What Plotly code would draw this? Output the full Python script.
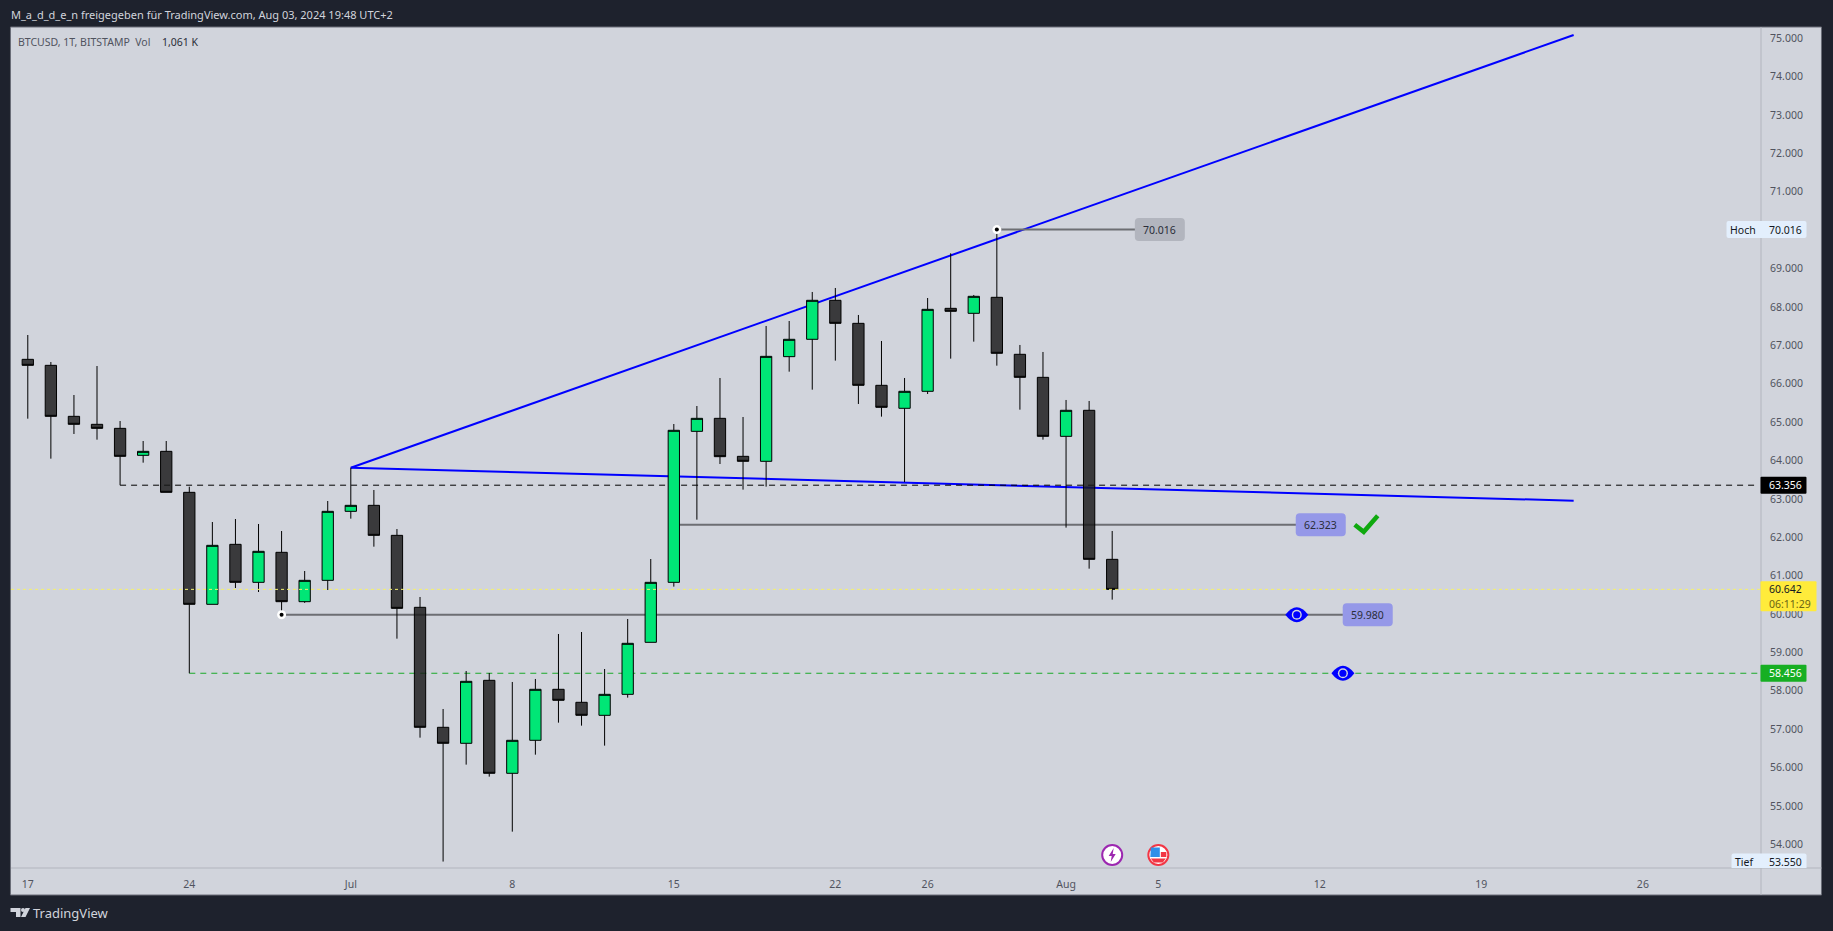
import plotly.graph_objects as go

FONT = "Noto Sans"
W, H = 1833, 931
PX_L, PX_R, PX_T, PX_B = 10.5, 1761.5, 27, 868
PANEL_R, PANEL_B = 1822, 895

dates = ["2024-06-16","2024-06-17","2024-06-18","2024-06-19","2024-06-20","2024-06-21","2024-06-22","2024-06-23",
 "2024-06-24","2024-06-25","2024-06-26","2024-06-27","2024-06-28","2024-06-29","2024-06-30",
 "2024-07-01","2024-07-02","2024-07-03","2024-07-04","2024-07-05","2024-07-06","2024-07-07",
 "2024-07-08","2024-07-09","2024-07-10","2024-07-11","2024-07-12","2024-07-13","2024-07-14",
 "2024-07-15","2024-07-16","2024-07-17","2024-07-18","2024-07-19","2024-07-20","2024-07-21",
 "2024-07-22","2024-07-23","2024-07-24","2024-07-25","2024-07-26","2024-07-27","2024-07-28",
 "2024-07-29","2024-07-30","2024-07-31","2024-08-01","2024-08-02","2024-08-03"]
opens = [66192,66635,66479,65150,64942,64837,64134,64238,
 63170,60252,61815,60825,61607,60321,60877,
 62675,62831,62049,60174,57048,56631,58272,
 55849,56709,58038,57699,57360,57907,59262,
 60825,64759,65098,64108,63978,66705,67157,
 68173,67573,65958,65359,65802,67964,67834,
 68251,66766,66166,64629,65307,61424]
highs = [66800,67269,66566,65706,66461,65028,64507,64507,
 63317,62397,62475,62345,62162,61120,62944,
 63812,63231,62214,60443,57525,58515,58463,
 58229,58307,59479,59531,58567,59870,61433,
 64950,65419,66149,65133,67504,67634,68390,
 68494,67791,67113,66149,68233,69398,68312,
 70016,67009,66827,65576,65550,62163]
lows = [66000,65089,64047,64690,64542,63356,63943,63170,
 58456,60252,60677,60573,59980,60290,60625,
 62484,61754,59357,56778,53550,56075,55762,
 54329,56335,57169,57091,56570,57821,59262,
 60713,62458,63908,63240,63318,66314,65845,
 66601,65472,65142,63439,65732,66653,67096,
 66470,65324,64542,62250,61181,60374]
closes = [66635,66479,65150,64942,64837,64108,64238,63170,
 60252,61789,60825,61633,60321,60877,62675,
 62831,62049,60147,57048,56631,58246,55849,
 56709,58038,57751,57360,57907,59236,60825,
 64786,65098,64099,63978,66713,67157,68173,
 67573,65958,65385,65802,67938,67886,68277,
 66792,66166,64629,65307,61424,60642]

tick_dates = ["2024-06-17","2024-06-24","2024-07-01","2024-07-08","2024-07-15","2024-07-22","2024-07-26",
              "2024-08-01","2024-08-05","2024-08-12","2024-08-19","2024-08-26"]
tick_labels = ["17","24","Jul","8","15","22","26","Aug","5","12","19","26"]
price_ticks = [54000,55000,56000,57000,58000,59000,60000,61000,62000,63000,64000,65000,66000,67000,
               68000,69000,70000,71000,72000,73000,74000,75000]
price_tick_labels = ["54.000","55.000","56.000","57.000","58.000","59.000","60.000","61.000","62.000","63.000","64.000",
                     "65.000","66.000","67.000","68.000","69.000","70.000","71.000","72.000","73.000","74.000","75.000"]

wedge_start = ("2024-07-01", 63812)
wedge_upper_end = ("2024-08-23", 75086)
wedge_lower_end = ("2024-08-23", 62952)
LEVEL_BLACK, LEVEL_GREEN, LEVEL_LAST = 63356, 58456, 60642
LEVEL_A, LEVEL_B, LEVEL_C = 70016, 62323, 59980
HIGH_VAL, LOW_VAL = 70016, 53550

BG = "#1e222d"; PANEL = "#d1d4dc"; AXLINE = "#b2b5be"; TXT = "#50535e"; BLUE = "#0000ff"; GREY = "#6d6e73"

def px(x):
    return (x - PX_L) / (PX_R - PX_L)
def py(y):
    return (PX_B - y) / (PX_B - PX_T)

shapes, annos = [], []

def text(t, x, y, size=10.5, color=TXT, anchor="center", yref="paper", family=FONT):
    annos.append(dict(text=t, x=px(x), xref="paper", y=py(y) if yref == "paper" else y, yref=yref,
                      xanchor=anchor, yanchor="middle", showarrow=False,
                      font=dict(family=family, size=size, color=color),
                      borderpad=0, borderwidth=0))

def rrect(xa, ya, x0, x1, up, down, fill, r=0, yref="y", layer="above"):
    p = (f"M{x0+r},{up} L{x1-r},{up} Q{x1},{up} {x1},{up-r} L{x1},{down+r} Q{x1},{down} {x1-r},{down} "
         f"L{x0+r},{down} Q{x0},{down} {x0},{down+r} L{x0},{up-r} Q{x0},{up} {x0+r},{up} Z")
    shapes.append(dict(type="path", path=p, xref="paper", xsizemode="pixel", xanchor=px(xa),
                       yref=yref, ysizemode="pixel", yanchor=ya, fillcolor=fill, line=dict(width=0), layer=layer))

def dline(x0, y0, x1, y1, color, width=1, dash="solid", layer="below", xref="x"):
    shapes.append(dict(type="line", xref=xref, yref="y", x0=x0, y0=y0, x1=x1, y1=y1,
                       line=dict(color=color, width=width, dash=dash), layer=layer))

def circle(xa, ya, r, fill, line=None, lw=0, xref="x", yref="y", layer="above"):
    shapes.append(dict(type="circle", xref=xref, yref=yref, xsizemode="pixel", ysizemode="pixel",
                       xanchor=xa, yanchor=ya, x0=-r, x1=r, y0=-r, y1=r, fillcolor=fill,
                       line=dict(color=line or fill, width=lw), layer=layer))

def path(xa, ya, p, fill=None, line=None, lw=0, xref="x", yref="y", layer="above"):
    shapes.append(dict(type="path", path=p, xref=xref, yref=yref, xsizemode="pixel", ysizemode="pixel",
                       xanchor=xa, yanchor=ya, fillcolor=fill or "rgba(0,0,0,0)",
                       line=dict(color=line or "rgba(0,0,0,0)", width=lw), layer=layer))

# panel and axis frame
shapes.append(dict(type="rect", xref="paper", yref="paper", x0=-0.0003, x1=px(PANEL_R), y0=py(PANEL_B), y1=1,
                   fillcolor=PANEL, line=dict(color="#6a6d78", width=1), layer="below"))
shapes.append(dict(type="line", xref="paper", yref="paper", x0=1, x1=1, y0=py(PANEL_B), y1=1,
                   line=dict(color=AXLINE, width=1), layer="below"))
shapes.append(dict(type="line", xref="paper", yref="paper", x0=0, x1=px(PANEL_R), y0=0, y1=0,
                   line=dict(color=AXLINE, width=1), layer="below"))

# drawings under the candles
dline(wedge_start[0], wedge_start[1], wedge_upper_end[0], wedge_upper_end[1], BLUE, 2)
dline(wedge_start[0], wedge_start[1], wedge_lower_end[0], wedge_lower_end[1], BLUE, 2)
dline("2024-06-21", LEVEL_BLACK, "2024-08-31", LEVEL_BLACK, "#000000", 1, "6px,5px")
dline("2024-06-24", LEVEL_GREEN, "2024-08-31", LEVEL_GREEN, "#1aa928", 1, "6px,5px")
dline("2024-07-29", LEVEL_A, "2024-08-04", LEVEL_A, GREY, 2)
dline("2024-07-15", LEVEL_B, "2024-08-11", LEVEL_B, GREY, 2)
dline("2024-06-28", LEVEL_C, "2024-08-13", LEVEL_C, GREY, 2)
shapes.append(dict(type="line", xref="paper", yref="y", x0=0, x1=1, y0=LEVEL_LAST, y1=LEVEL_LAST,
                   line=dict(color="#f4f06e", width=1, dash="dot"), layer="above"))

# anchor dots
for d, v in (("2024-07-29", LEVEL_A), ("2024-06-28", LEVEL_C)):
    circle(d, v, 4.5, "#ffffff")
    circle(d, v, 2, "#000000")

# drawing labels
rrect(1160, LEVEL_A, -25, 25, 11.5, -11.5, "#b2b5be", 4)
text("70.016", 1160, LEVEL_A, 10.5, "#2a2e39", yref="y")
rrect(1321, LEVEL_B, -25, 25, 11.5, -11.5, "#9598e8", 4)
text("62.323", 1321, LEVEL_B, 10.5, "#2a2e39", yref="y")
rrect(1368, LEVEL_C, -25, 25, 11.5, -11.5, "#9598e8", 4)
text("59.980", 1368, LEVEL_C, 10.5, "#2a2e39", yref="y")

# check mark
path(px(1365), LEVEL_B, "M-10,0 L-1,-7 L13,9", None, "#0fa90f", 4.5, xref="paper")

# eyes
for d, v in (("2024-08-11", LEVEL_C), ("2024-08-13", LEVEL_GREEN)):
    path(d, v, "M-11.5,0 Q0,15 11.5,0 Q0,-15 -11.5,0 Z", BLUE)
    circle(d, v, 5, PANEL)
    circle(d, v, 3.6, BLUE)

# chart markers near the time axis
ym = py(855)
circle("2024-08-03", ym, 10, "#ffffff", "#9c27b0", 2, yref="paper")
path("2024-08-03", ym, "M1.5,7 L-3.5,-1 L-0.5,-1 L-1.5,-7 L3.5,1 L0.5,1 Z", "#9c27b0", yref="paper")
circle("2024-08-05", ym, 10, "#ffffff", "#f23645", 2, yref="paper")
path("2024-08-05", ym, "M-7.5,7.5 L1.5,7.5 L1.5,-2 L-8,-2 Z", "#2f8fe8", yref="paper")
path("2024-08-05", ym, "M2.5,3 L8,3 L8,-2 L2.5,-2 Z", "#f23645", yref="paper")
path("2024-08-05", ym, "M-7.5,-3.5 L7.5,-3.5 L4.5,-7.5 L-4.5,-7.5 Z", "#f23645", yref="paper")

# price-axis labels
rrect(1784, LEVEL_BLACK, -23, 23, 8.5, -8.5, "#000000", 1)
text("63.356", 1786, LEVEL_BLACK, 10.5, "#ffffff", yref="y")
rrect(1784, LEVEL_GREEN, -23, 23, 8.5, -8.5, "#17af23", 1)
text("58.456", 1786, LEVEL_GREEN, 10.5, "#ffffff", yref="y")
rrect(1761, LEVEL_LAST, 0, 56, 8, -22, "#ffeb3b", 1)
text("60.642", 1786, LEVEL_LAST, 10.5, "#131722", yref="y")
text("06:11:29", 1770, 603.5, 10.5, "#6b6414", anchor="left")
rrect(1727, HIGH_VAL, 0, 80, 8.5, -8.5, "#e3effd", 2)
text("Hoch", 1743, HIGH_VAL, 10.5, "#131722", yref="y")
text("70.016", 1786, HIGH_VAL, 10.5, "#131722", yref="y")
rrect(1732, LOW_VAL, 0, 75, 8, -8, "#e3effd", 2)
text("Tief", 1745, LOW_VAL, 10.5, "#131722", yref="y")
text("53.550", 1786, LOW_VAL, 10.5, "#131722", yref="y")

# header, legend, footer
text("M_a_d_d_e_n freigegeben für TradingView.com, Aug 03, 2024 19:48 UTC+2", 10, 15, 11, "#d1d4dc", "left")
text("BTCUSD, 1T, BITSTAMP  Vol", 18, 42, 10.5, "#50535e", "left")
text("1,061 K", 162, 42, 10.5, "#2a2e39", "left")
text("TradingView", 33, 913, 13, "#d1d4dc", "left")
path(px(10), py(908), "M0,0 L10,0 L10,-9 L5.5,-9 L5.5,-4 L0,-4 Z M15,0 L19.5,0 L15,-9 L10.5,-9 Z", "#d1d4dc", xref="paper", yref="paper")
circle(px(22.5), py(910), 2, "#d1d4dc", xref="paper", yref="paper")

fig = go.Figure(go.Candlestick(
    x=dates, open=opens, high=highs, low=lows, close=closes,
    increasing=dict(fillcolor="#00e676", line=dict(color="#000000", width=1)),
    decreasing=dict(fillcolor="rgba(24,24,24,0.82)", line=dict(color="#000000", width=1)),
    whiskerwidth=0, showlegend=False, hoverinfo="skip"))

fig.update_layout(
    width=W, height=H, autosize=False, showlegend=False,
    margin=dict(l=PX_L, r=W - PX_R, t=PX_T, b=H - PX_B, pad=0),
    paper_bgcolor=BG, plot_bgcolor=PANEL,
    font=dict(family=FONT, size=10.5, color=TXT),
    shapes=shapes, annotations=annos,
    xaxis=dict(type="date", range=["2024-06-16 06:32", "2024-08-31 02:53"], rangeslider=dict(visible=False),
               tickmode="array", tickvals=tick_dates, ticktext=tick_labels, showgrid=False, zeroline=False,
               showline=False, ticks="outside", ticklen=6, tickcolor="rgba(0,0,0,0)",
               tickfont=dict(family=FONT, size=10.5, color=TXT)),
    yaxis=dict(side="right", range=[53382, 75294], tickmode="array", tickvals=price_ticks, ticktext=price_tick_labels,
               showgrid=False, zeroline=False, showline=False, ticks="outside", ticklen=6, tickcolor="rgba(0,0,0,0)",
               tickfont=dict(family=FONT, size=10.5, color=TXT)),
)

fig.write_html("out.html", config=dict(displayModeBar=False),
               post_script="document.body.style.margin='0';document.body.style.overflow='hidden';document.body.style.background='#1e222d';")
